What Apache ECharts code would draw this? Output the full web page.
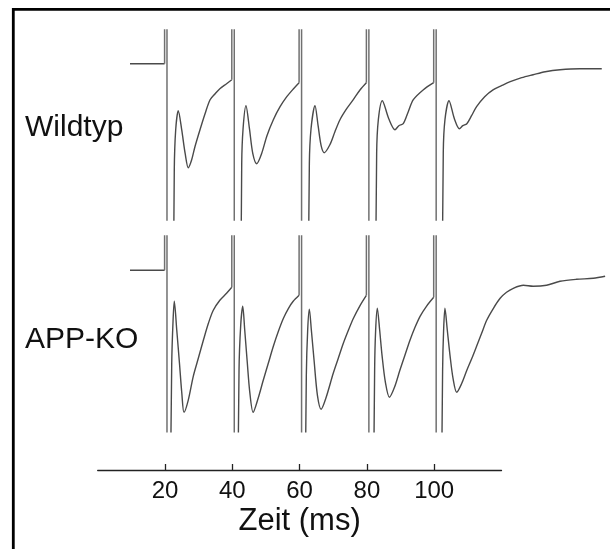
<!DOCTYPE html>
<html>
<head>
<meta charset="utf-8">
<script src="https://cdn.jsdelivr.net/npm/echarts@6/dist/echarts.min.js"></script>
<style>
  html, body { margin: 0; padding: 0; background: #ffffff; }
  #chart { width: 610px; height: 549px; }
</style>
</head>
<body>
<div id="chart"></div>
<script>
// ---- Data (time in ms, potential in mV; stimulus artifacts exceed the visible window and are clipped) ----
const xTickValues = [20, 40, 60, 80, 100];
const xAxisTitle = 'Zeit (ms)';
const traceLabels = ['Wildtyp', 'APP-KO'];

const wildtypTrace = [
  [9.6, 0], [19.88, 0], [19.9, 8], [20.58, 8], [20.6, -8], [22.3, -8], [22.4, -3],
  [22.76, -1.06], [23.18, -0.66], [23.95, -0.47], [24.96, -0.66], [26.0, -0.9], [26.92, -1.04],
  [27.93, -0.96], [28.9, -0.83], [30.4, -0.66], [31.9, -0.5], [33.4, -0.36], [34.9, -0.3],
  [36.3, -0.25], [38.3, -0.2], [39.85, -0.16],
  [39.9, 8], [40.58, 8], [40.6, -8], [42.3, -8], [42.45, -3],
  [42.8, -1.0], [43.2, -0.65], [44.07, -0.42], [45.1, -0.65], [46.1, -0.9], [47.25, -1.0],
  [48.7, -0.9], [50.3, -0.72], [52.2, -0.56], [54.2, -0.43], [56.2, -0.33], [58.2, -0.25], [59.85, -0.19],
  [59.9, 8], [60.58, 8], [60.6, -8], [62.3, -8], [62.45, -3],
  [62.9, -1.0], [63.4, -0.65], [64.58, -0.42], [65.5, -0.62], [66.4, -0.82], [67.3, -0.89],
  [69.0, -0.81], [70.5, -0.68], [72.0, -0.56], [74.0, -0.45], [75.96, -0.36], [78.0, -0.26], [79.85, -0.19],
  [79.9, 8], [80.58, 8], [80.6, -8], [82.3, -8], [82.45, -3],
  [82.9, -0.9], [83.4, -0.56], [84.58, -0.37], [86.5, -0.55], [88.35, -0.66], [89.5, -0.62],
  [90.8, -0.6], [92.3, -0.48], [93.8, -0.36], [96.8, -0.26], [99.85, -0.19],
  [99.9, 8], [100.58, 8], [100.6, -8], [102.1, -8], [102.25, -3],
  [102.7, -0.89], [103.2, -0.56], [104.4, -0.37], [106.0, -0.55], [107.5, -0.65], [108.5, -0.62],
  [109.7, -0.6], [111.1, -0.52], [112.6, -0.43], [115.0, -0.33], [117.6, -0.26], [120.0, -0.22],
  [122.6, -0.18], [126.0, -0.14], [129.4, -0.11], [133.0, -0.08], [137.4, -0.06], [143.3, -0.05], [149.8, -0.05]
];

const appKoTrace = [
  [9.6, 0], [19.88, 0], [19.9, 8], [20.58, 8], [20.6, -8], [21.3, -8], [21.4, -3],
  [22.0, -0.93], [22.4, -0.5], [22.76, -0.31], [23.5, -0.6], [24.3, -0.93], [25.0, -1.23], [25.65, -1.42],
  [26.9, -1.3], [28.4, -1.06], [29.9, -0.88], [31.4, -0.7], [32.9, -0.53], [34.35, -0.4],
  [36.3, -0.3], [38.3, -0.23], [39.85, -0.17],
  [39.9, 8], [40.58, 8], [40.6, -8], [41.4, -8], [41.5, -3],
  [42.0, -1.0], [42.5, -0.55], [43.1, -0.36], [43.7, -0.6], [44.4, -0.9], [45.2, -1.22], [46.2, -1.42],
  [47.5, -1.3], [49.2, -1.1], [50.7, -0.93], [52.2, -0.76], [53.7, -0.61], [55.2, -0.48],
  [56.7, -0.38], [58.1, -0.31], [59.85, -0.25],
  [59.9, 8], [60.58, 8], [60.6, -8], [61.4, -8], [61.5, -3],
  [62.0, -1.05], [62.4, -0.6], [62.9, -0.39], [63.5, -0.6], [64.3, -0.9], [65.3, -1.25], [66.4, -1.39],
  [67.8, -1.28], [70.0, -1.03], [71.5, -0.88], [73.0, -0.73], [74.5, -0.6], [76.0, -0.48],
  [78.0, -0.35], [79.85, -0.25],
  [79.9, 8], [80.58, 8], [80.6, -8], [81.7, -8], [81.8, -3],
  [82.3, -1.0], [82.6, -0.6], [83.1, -0.38], [83.8, -0.6], [84.5, -0.85], [85.5, -1.12], [86.7, -1.27],
  [88.2, -1.17], [89.8, -1.0], [91.3, -0.85], [92.8, -0.7], [94.3, -0.57], [95.8, -0.46],
  [97.7, -0.36], [99.85, -0.27],
  [99.9, 8], [100.58, 8], [100.6, -8], [101.9, -8], [102.0, -3],
  [102.5, -1.0], [102.8, -0.6], [103.2, -0.38], [103.9, -0.6], [104.7, -0.85], [105.6, -1.08], [106.7, -1.22],
  [108.2, -1.13], [109.7, -1.0], [111.2, -0.88], [112.6, -0.76], [114.1, -0.63], [115.6, -0.5],
  [117.6, -0.38], [119.6, -0.28], [121.5, -0.22], [123.5, -0.18], [126.5, -0.15], [129.4, -0.16],
  [133.4, -0.15], [137.4, -0.11], [142.3, -0.09], [147.3, -0.08], [150.8, -0.06]
];

// ---- Split each sweep into stimulus-artifact pieces (straight) and response pieces (smoothed) ----
function splitTrace(trace) {
  const isSpike = p => Math.abs(p[1]) >= 5;
  const artifacts = [], responses = [];
  let i = 0;
  while (i < trace.length) {
    if (isSpike(trace[i])) {
      const seg = [trace[i - 1]];
      while (i < trace.length && isSpike(trace[i])) { seg.push(trace[i]); i++; }
      if (i < trace.length) seg.push(trace[i]);
      artifacts.push(seg);
    } else {
      const seg = [];
      while (i < trace.length && !isSpike(trace[i])) { seg.push(trace[i]); i++; }
      responses.push(seg);
    }
  }
  return { artifacts, responses };
}

const chart = echarts.init(document.getElementById('chart'), null, { renderer: 'canvas' });
const FONT = '"Liberation Sans", Arial, sans-serif';
const traceColor = '#4a4a4a';
const artifactColor = '#707070';

const series = [];
[wildtypTrace, appKoTrace].forEach((trace, k) => {
  const parts = splitTrace(trace);
  parts.responses.forEach(seg => series.push({
    name: traceLabels[k], type: 'line', xAxisIndex: k, yAxisIndex: k, data: seg,
    showSymbol: false, symbol: 'none', clip: true, smooth: 0.3,
    lineStyle: { color: traceColor, width: 1.4 }
  }));
  parts.artifacts.forEach(seg => series.push({
    name: traceLabels[k], type: 'line', xAxisIndex: k, yAxisIndex: k, data: seg,
    showSymbol: false, symbol: 'none', clip: true, smooth: false,
    lineStyle: { color: artifactColor, width: 1.5 }
  }));
});

const option = {
  animation: false,
  backgroundColor: '#ffffff',
  grid: [
    { left: 97.7, width: 508.1, top: 30, height: 190 },
    { left: 97.7, width: 508.1, top: 236, height: 195.7 },
    { left: 97.7, width: 403.8, top: 300, height: 170 }
  ],
  xAxis: [
    { gridIndex: 0, type: 'value', min: 0, max: 151, show: false },
    { gridIndex: 1, type: 'value', min: 0, max: 151, show: false },
    {
      gridIndex: 2, type: 'value', min: 0, max: 120,
      axisLine: { show: true, lineStyle: { color: '#222', width: 1.3 } },
      axisTick: { show: true, inside: true, length: 6, customValues: xTickValues, lineStyle: { color: '#222', width: 1.3 } },
      axisLabel: { show: true, customValues: xTickValues, margin: 9, color: '#111', fontSize: 24, fontFamily: FONT },
      splitLine: { show: false },
      name: xAxisTitle, nameLocation: 'middle', nameGap: 36,
      nameTextStyle: { fontSize: 31, color: '#111', fontFamily: FONT }
    }
  ],
  yAxis: [
    { gridIndex: 0, type: 'value', min: -1.563, max: 0.337, show: false },
    { gridIndex: 1, type: 'value', min: -1.614, max: 0.343, show: false },
    { gridIndex: 2, type: 'value', min: 0, max: 1, show: false }
  ],
  series: series,
  graphic: [
    {
      type: 'polyline', silent: true,
      shape: { points: [[13.3, 549], [13.3, 9.3], [610, 9.3]] },
      style: { stroke: '#000', lineWidth: 2.8, fill: null }
    },
    {
      type: 'text', silent: true,
      style: { text: traceLabels[0], font: '30px ' + FONT, fill: '#111' },
      position: [25, 113]
    },
    {
      type: 'text', silent: true,
      style: { text: traceLabels[1], font: '30px ' + FONT, fill: '#111' },
      position: [25, 325]
    }
  ]
};
chart.setOption(option);
</script>
</body>
</html>
